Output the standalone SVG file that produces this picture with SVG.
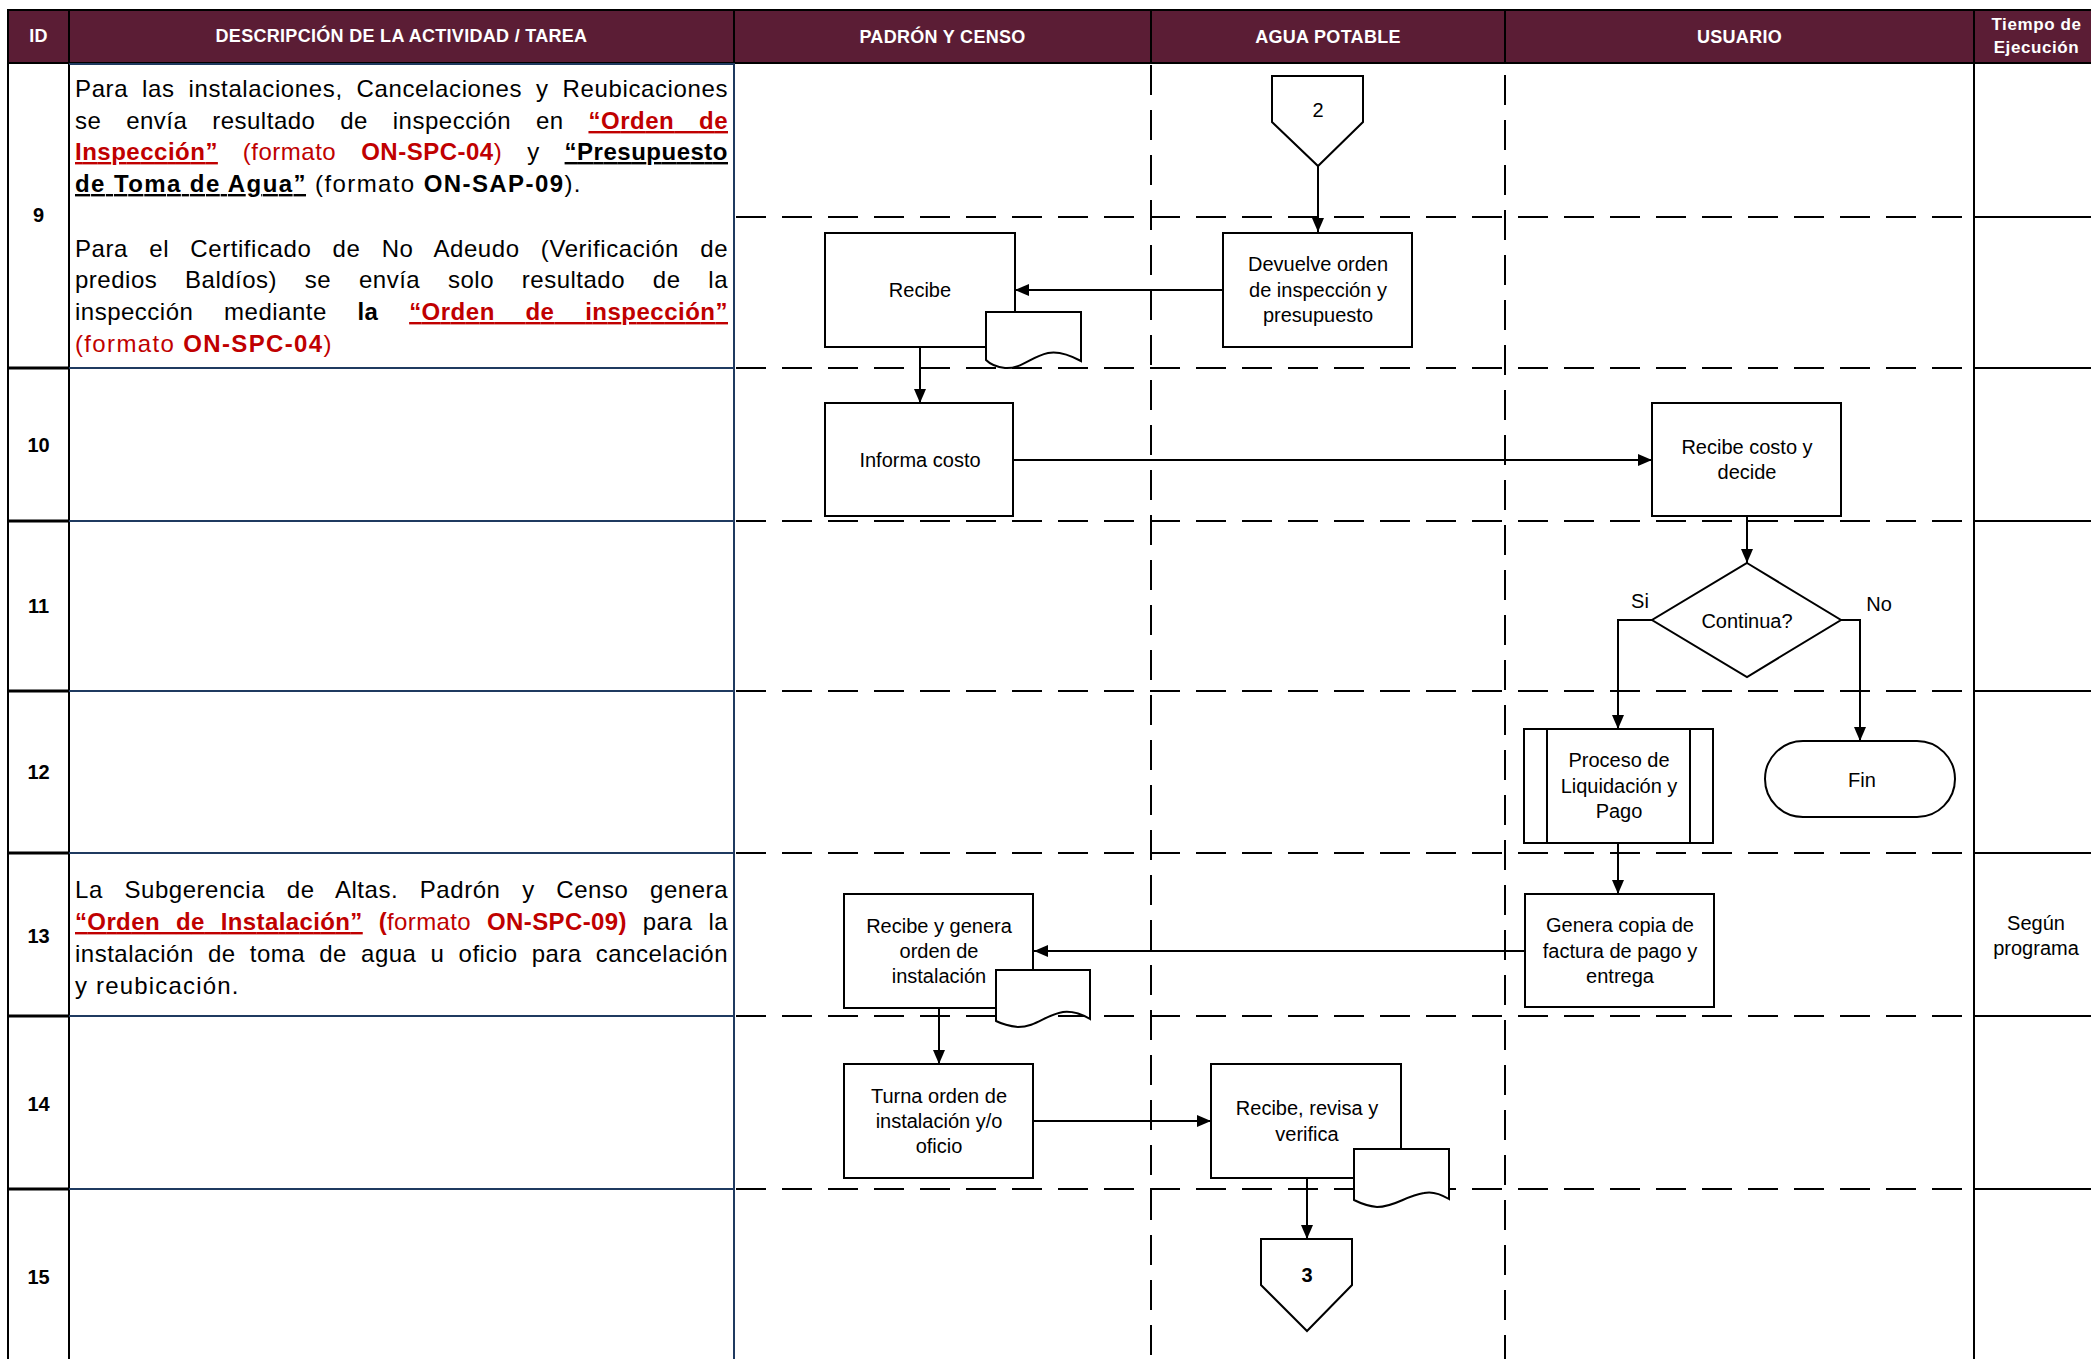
<svg xmlns="http://www.w3.org/2000/svg" width="2091" height="1359" viewBox="0 0 2091 1359">
<style>
text{font-family:"Liberation Sans",Arial,sans-serif;}
.h{font-size:18px;font-weight:bold;fill:#fff;text-anchor:middle;letter-spacing:0.3px;}
.ht{font-size:17px;font-weight:bold;fill:#fff;text-anchor:middle;letter-spacing:0.6px;}
.id{font-size:20px;font-weight:bold;fill:#000;text-anchor:middle;}
.d{font-size:24px;fill:#000;letter-spacing:0.5px;}
.b{font-weight:bold;}
.r{fill:#c00000;}
.u{text-decoration:underline;}
.t{font-size:20px;fill:#000;text-anchor:middle;}
.tb{font-size:20px;font-weight:bold;fill:#000;text-anchor:middle;}
.box{fill:#fff;stroke:#000;stroke-width:2;}
.blk{stroke:#000;stroke-width:2;fill:none;}
.thk{stroke:#000;stroke-width:3;fill:none;}
.nav{stroke:#1f3a60;stroke-width:2;fill:none;}
.dh{stroke:#000;stroke-width:2;stroke-dasharray:30 16;fill:none;}
.dv{stroke:#000;stroke-width:2;stroke-dasharray:30 15;fill:none;}
.c{stroke:#000;stroke-width:2;fill:none;marker-end:url(#ah);}
</style>
<defs>
<marker id="ah" markerWidth="14" markerHeight="12" refX="14" refY="6" orient="auto" markerUnits="userSpaceOnUse">
<path d="M0,0 L14,6 L0,12 Z" fill="#000"/>
</marker>
</defs>
<rect x="0" y="0" width="2091" height="1359" fill="#fff"/>
<g id="table">
<rect x="8" y="10" width="2090" height="53" fill="#5b1d35" stroke="#000" stroke-width="2"/>
<path class="blk" d="M69,10 V63 M734,10 V63 M1151,10 V63 M1505,10 V63 M1974,10 V63"/>
<text class="h" x="38.5" y="42">ID</text>
<text class="h" x="401.5" y="42">DESCRIPCIÓN DE LA ACTIVIDAD / TAREA</text>
<text class="h" x="942.5" y="43">PADRÓN Y CENSO</text>
<text class="h" x="1328" y="43">AGUA POTABLE</text>
<text class="h" x="1739.5" y="43">USUARIO</text>
<text class="ht" x="2036.5" y="30">Tiempo de</text>
<text class="ht" x="2036.5" y="53">Ejecución</text>
<path class="blk" d="M8,63 V1359 M69,63 V1359"/>
<path class="thk" d="M8,368 H69 M8,521 H69 M8,691 H69 M8,853 H69 M8,1016 H69 M8,1189 H69"/>
<path class="nav" d="M734,63 V1359 M69,64 H734 M69,368 H734 M69,521 H734 M69,691 H734 M69,853 H734 M69,1016 H734 M69,1189 H734"/>
<path class="blk" d="M1974,63 V1359 M1974,217 H2091 M1974,368 H2091 M1974,521 H2091 M1974,691 H2091 M1974,853 H2091 M1974,1016 H2091 M1974,1189 H2091"/>
<path class="dh" d="M736,217 H1962 M736,368 H1962 M736,521 H1962 M736,691 H1962 M736,853 H1962 M736,1016 H1962 M736,1189 H1962"/>
<path class="dv" d="M1151,65 V1359 M1505,75 V1359"/>
<text class="id" x="38.5" y="222">9</text>
<text class="id" x="38.5" y="452">10</text>
<text class="id" x="38.5" y="613">11</text>
<text class="id" x="38.5" y="779">12</text>
<text class="id" x="38.5" y="943">13</text>
<text class="id" x="38.5" y="1111">14</text>
<text class="id" x="38.5" y="1284">15</text>
</g>
<g id="desc-9">
<text class="d" x="75" y="97" textLength="653" lengthAdjust="spacing" word-spacing="6.6">Para las instalaciones, Cancelaciones y Reubicaciones</text>
<text class="d" x="75" y="129" textLength="653" lengthAdjust="spacing" word-spacing="17.6">se envía resultado de inspección en <tspan class="b r u">“Orden de</tspan></text>
<text class="d" x="75" y="160" textLength="653" lengthAdjust="spacing" word-spacing="17.8"><tspan class="b r u">Inspección”</tspan><tspan class="r"> (formato </tspan><tspan class="b r">ON-SPC-04</tspan><tspan class="r">)</tspan> y <tspan class="b u">“Presupuesto</tspan></text>
<text class="d" x="75" y="192" textLength="506" lengthAdjust="spacing"><tspan class="b u">de Toma de Agua”</tspan> (formato <tspan class="b">ON-SAP-09</tspan>).</text>
<text class="d" x="75" y="257" textLength="653" lengthAdjust="spacing" word-spacing="14">Para el Certificado de No Adeudo (Verificación de</text>
<text class="d" x="75" y="288" textLength="653" lengthAdjust="spacing" word-spacing="20.6">predios Baldíos) se envía solo resultado de la</text>
<text class="d" x="75" y="320" textLength="653" lengthAdjust="spacing" word-spacing="23.5">inspección mediante <tspan class="b">la</tspan> <tspan class="b r u">“Orden de inspección”</tspan></text>
<text class="d r" x="75" y="352" textLength="257" lengthAdjust="spacing">(formato <tspan class="b">ON-SPC-04</tspan>)</text>
</g>
<g id="desc-13">
<text class="d" x="75" y="898" textLength="653" lengthAdjust="spacing" word-spacing="14.5">La Subgerencia de Altas. Padrón y Censo genera</text>
<text class="d" x="75" y="930" textLength="653" lengthAdjust="spacing" word-spacing="9"><tspan class="b r u">“Orden de Instalación”</tspan><tspan class="b r"> (</tspan><tspan class="r">formato </tspan><tspan class="b r">ON-SPC-09)</tspan> para la</text>
<text class="d" x="75" y="962" textLength="653" lengthAdjust="spacing" word-spacing="7">instalación de toma de agua u oficio para cancelación</text>
<text class="d" x="75" y="994" textLength="164" lengthAdjust="spacing">y reubicación.</text>
</g>
<g id="connectors">
<path class="c" d="M1318,166 V232"/>
<path class="c" d="M1223,290 H1015"/>
<path class="c" d="M920,347 V403"/>
<path class="c" d="M1013,460 H1652"/>
<path class="c" d="M1747,516 V563"/>
<path class="c" d="M1652,620 H1618 V729"/>
<path class="c" d="M1841,620 H1860 V741"/>
<path class="c" d="M1618,843 V894"/>
<path class="c" d="M1525,951 H1034"/>
<path class="c" d="M939,1008 V1064"/>
<path class="c" d="M1033,1121 H1211"/>
<path class="c" d="M1307,1178 V1239"/>
<text class="t" x="1640" y="608">Si</text>
<text class="t" x="1879" y="611">No</text>
</g>
<g id="n-conector-2">
<path class="box" d="M1272,76 H1363 V122 L1318,166 L1272,122 Z"/>
<text class="t" x="1318" y="117">2</text>
</g>
<g id="n-devuelve">
<rect class="box" x="1223" y="233" width="189" height="114"/>
<text class="t" x="1318" y="271">Devuelve orden</text>
<text class="t" x="1318" y="297">de inspección y</text>
<text class="t" x="1318" y="322">presupuesto</text>
</g>
<g id="n-recibe">
<rect class="box" x="825" y="233" width="190" height="114"/>
<text class="t" x="920" y="297">Recibe</text>
<path class="box" d="M986,312 H1081 V361 C1068,354 1058,351 1048,353 C1030,357 1022,369 1005,368 C996,367 990,364 986,360 Z"/>
</g>
<g id="n-informa">
<rect class="box" x="825" y="403" width="188" height="113"/>
<text class="t" x="920" y="467">Informa costo</text>
</g>
<g id="n-recibe-costo">
<rect class="box" x="1652" y="403" width="189" height="113"/>
<text class="t" x="1747" y="454">Recibe costo y</text>
<text class="t" x="1747" y="479">decide</text>
</g>
<g id="n-continua">
<path class="box" d="M1747,563 L1841,620 L1747,677 L1652,620 Z"/>
<text class="t" x="1747" y="628">Continua?</text>
</g>
<g id="n-proceso">
<rect class="box" x="1524" y="729" width="189" height="114"/>
<path class="blk" d="M1547,729 V843 M1690,729 V843"/>
<text class="t" x="1619" y="767">Proceso de</text>
<text class="t" x="1619" y="793">Liquidación y</text>
<text class="t" x="1619" y="818">Pago</text>
</g>
<g id="n-fin">
<rect class="box" x="1765" y="741" width="190" height="76" rx="38" ry="38"/>
<text class="t" x="1862" y="787">Fin</text>
</g>
<g id="n-genera-copia">
<rect class="box" x="1525" y="894" width="189" height="113"/>
<text class="t" x="1620" y="932">Genera copia de</text>
<text class="t" x="1620" y="958">factura de pago y</text>
<text class="t" x="1620" y="983">entrega</text>
</g>
<g id="n-segun">
<text class="t" x="2036" y="930">Según</text>
<text class="t" x="2036" y="955">programa</text>
</g>
<g id="n-recibe-genera">
<rect class="box" x="844" y="894" width="189" height="114"/>
<text class="t" x="939" y="933">Recibe y genera</text>
<text class="t" x="939" y="958">orden de</text>
<text class="t" x="939" y="983">instalación</text>
<path class="box" d="M996,970 H1090 V1019 C1080,1013 1072,1011 1063,1012 C1045,1015 1036,1027 1018,1027 C1009,1026 1002,1024 996,1021 Z"/>
</g>
<g id="n-turna">
<rect class="box" x="844" y="1064" width="189" height="114"/>
<text class="t" x="939" y="1103">Turna orden de</text>
<text class="t" x="939" y="1128">instalación y/o</text>
<text class="t" x="939" y="1153">oficio</text>
</g>
<g id="n-recibe-revisa">
<rect class="box" x="1211" y="1064" width="190" height="114"/>
<text class="t" x="1307" y="1115">Recibe, revisa y</text>
<text class="t" x="1307" y="1141">verifica</text>
<path class="box" d="M1354,1149 H1449 V1199 C1439,1193 1432,1191 1424,1193 C1405,1196 1395,1207 1377,1207 C1367,1206 1360,1203 1354,1200 Z"/>
</g>
<g id="n-conector-3">
<path class="box" d="M1261,1239 H1352 V1285 L1307,1331 L1261,1285 Z"/>
<text class="tb" x="1307" y="1282">3</text>
</g>
</svg>
